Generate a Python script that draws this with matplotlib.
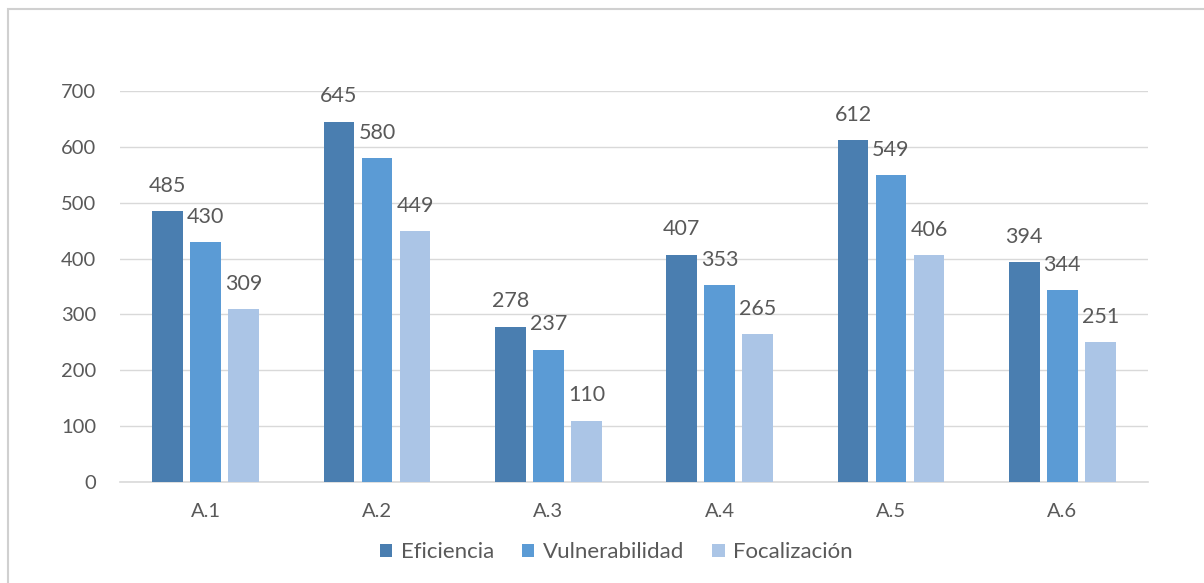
import numpy as np
import matplotlib.pyplot as plt
from matplotlib.patches import Rectangle

# ============================================
# DATA
# ============================================
categories = ["A.1", "A.2", "A.3", "A.4", "A.5", "A.6"]
eficiencia = [485, 645, 278, 407, 612, 394]
vulnerabilidad = [430, 580, 237, 353, 549, 344]
focalizacion = [309, 449, 110, 265, 406, 251]
series_names = ["Eficiencia", "Vulnerabilidad", "Focalización"]
y_ticks = [0, 100, 200, 300, 400, 500, 600, 700]

colors = ['#4A7EB0', '#5B9BD5', '#ABC5E6']
text_col = '#595959'
grid_col = '#D9D9D9'

plt.rcParams['font.family'] = ['Lato', 'DejaVu Sans']

fig = plt.figure(figsize=(12.04, 5.83), dpi=100)
ax = fig.add_axes([120/1204, 101/583, 1028/1204, 391/583])

x = np.arange(len(categories))
width = 0.18
step = 0.222

for i, vals in enumerate([eficiencia, vulnerabilidad, focalizacion]):
    pos = x + (i - 1) * step
    bars = ax.bar(pos, vals, width, color=colors[i], label=series_names[i], zorder=3)
    for b, v in zip(bars, vals):
        ax.annotate(str(v), (b.get_x() + b.get_width() / 2, v),
                    xytext=(0, 11), textcoords='offset points',
                    ha='center', va='bottom', fontsize=15.5, color=text_col)

ax.set_xlim(-0.5, len(categories) - 0.5)
ax.set_ylim(0, 700)
ax.set_yticks(y_ticks)
ax.set_xticks(x)
ax.set_xticklabels(categories)
ax.tick_params(axis='both', length=0, labelsize=14.5, colors=text_col)
ax.tick_params(axis='y', pad=17)
ax.tick_params(axis='x', pad=15)
ax.grid(True, axis='y', color=grid_col, linewidth=1, zorder=0)
for s in ['top', 'right', 'left']:
    ax.spines[s].set_visible(False)
ax.spines['bottom'].set_color(grid_col)
ax.spines['bottom'].set_linewidth(1.2)

ax.legend(loc='center', bbox_to_anchor=(0.483, -0.18), ncol=3, frameon=False,
          fontsize=16, labelcolor=text_col, handlelength=0.55, handleheight=0.55,
          handletextpad=0.4, columnspacing=1.25)

# outer chart border
fig.patches.append(Rectangle((8/1204, -0.1), 1.2, (583 - 9)/583 + 0.1,
                             transform=fig.transFigure, fill=False,
                             edgecolor='#D0D0D0', linewidth=1.5))

plt.savefig("out.png", dpi=100)
